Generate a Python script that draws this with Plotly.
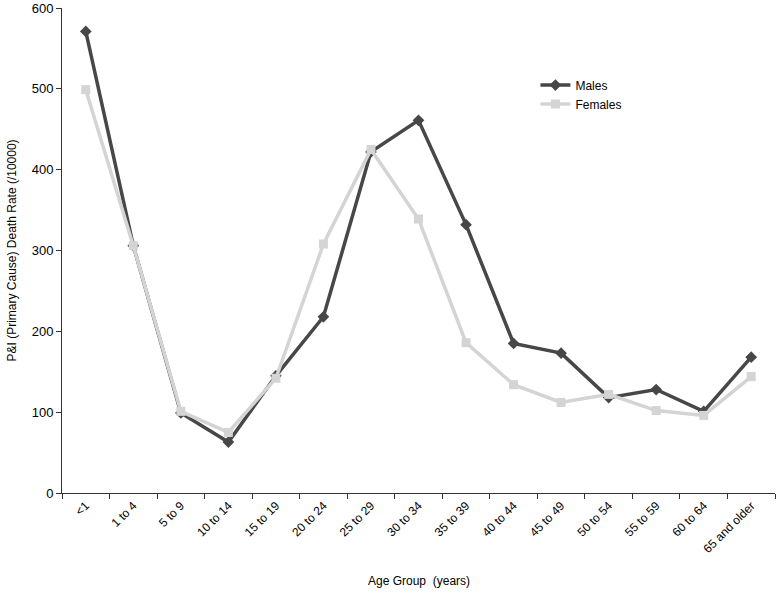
import plotly.graph_objects as go

age_groups = ["<1", "1 to 4", "5 to 9", "10 to 14", "15 to 19", "20 to 24", "25 to 29",
              "30 to 34", "35 to 39", "40 to 44", "45 to 49", "50 to 54", "55 to 59",
              "60 to 64", "65 and older"]
males = [571, 306, 99, 63, 145, 218, 422, 461, 332, 185, 173, 118, 128, 101, 168]
females = [499, 306, 101, 75, 142, 308, 425, 339, 186, 134, 112, 122, 102, 96, 144]

fig = go.Figure()
fig.add_trace(go.Scatter(x=age_groups, y=males, name="Males", mode="lines+markers",
                         line=dict(color="#474747", width=3.5),
                         marker=dict(symbol="diamond", size=9, color="#474747")))
fig.add_trace(go.Scatter(x=age_groups, y=females, name="Females", mode="lines+markers",
                         line=dict(color="#d4d4d4", width=3.5),
                         marker=dict(symbol="square", size=9, color="#d4d4d4")))

fig.update_layout(
    width=777, height=597,
    margin=dict(l=62, r=2, t=8, b=104),
    plot_bgcolor="white", paper_bgcolor="white",
    font=dict(family="Liberation Sans, Arial", size=12, color="#000"),
    legend=dict(x=0.664, y=0.871, xanchor="left", yanchor="top", itemwidth=30,
                bgcolor="rgba(0,0,0,0)", font=dict(size=12), tracegroupgap=4),
    annotations=[
        dict(text="Age Group  (years)", xref="paper", yref="paper", x=0.5, y=0,
             yshift=-88, yanchor="middle", showarrow=False, font=dict(size=12)),
        dict(text="P&I (Primary Cause) Death Rate (/10000)", xref="paper", yref="paper",
             x=0, y=0.5, xshift=-51, xanchor="center", textangle=-90, showarrow=False,
             font=dict(size=12)),
    ],
)
fig.update_xaxes(
    type="category", range=[-0.5, 14.5], tickangle=-45, tickson="boundaries",
    ticks="outside", ticklen=5, tickcolor="#333", showline=True, linecolor="#333",
    linewidth=1, showgrid=False, tickfont=dict(size=12), automargin=False,
)
fig.update_yaxes(
    range=[0, 600], tickvals=[0, 100, 200, 300, 400, 500, 600], ticks="outside",
    ticklen=5, tickcolor="#333", showline=True, linecolor="#333", linewidth=1,
    showgrid=False, zeroline=False, tickfont=dict(size=13), automargin=False,
    ticklabeloverflow="allow",
)

fig.write_html("out.html", config={"displayModeBar": False},
               post_script="document.body.style.margin='0';")
